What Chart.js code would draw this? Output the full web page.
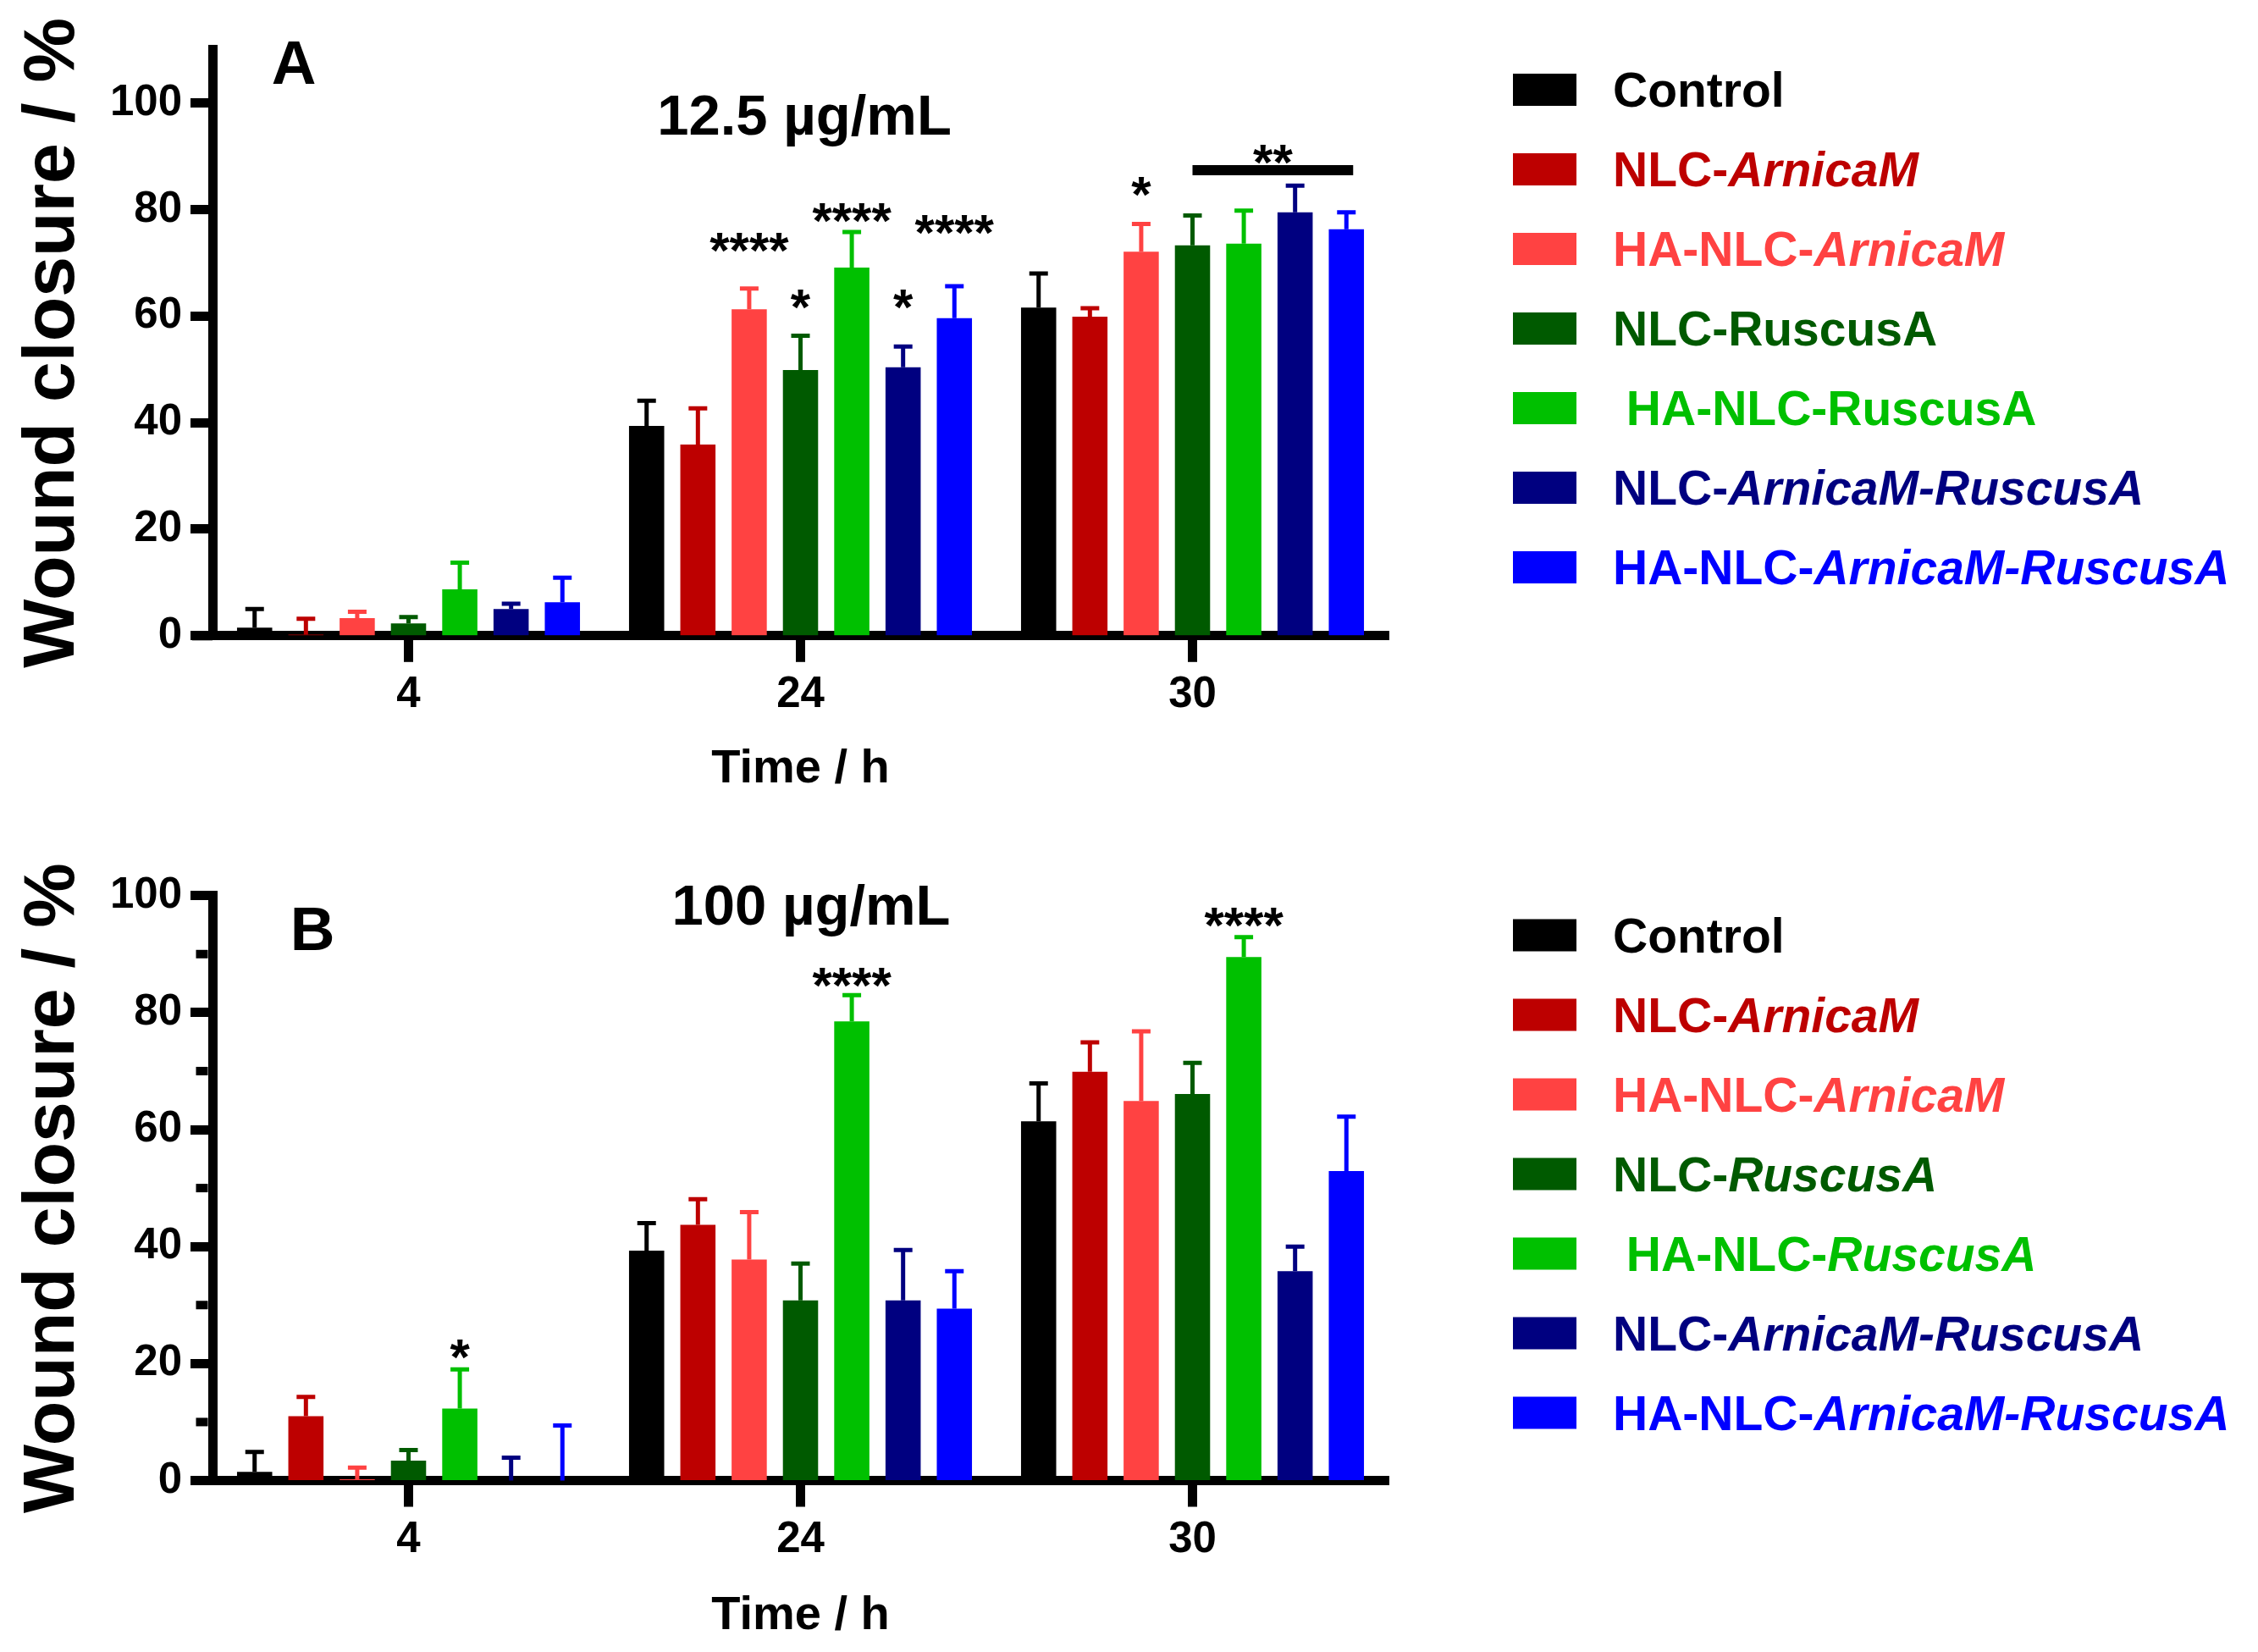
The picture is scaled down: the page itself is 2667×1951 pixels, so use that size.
<!DOCTYPE html>
<html>
<head>
<meta charset="utf-8">
<script src="https://cdn.jsdelivr.net/npm/chart.js@4.4.1/dist/chart.umd.min.js"></script>
<style>
  html, body { margin: 0; padding: 0; background: #fff; overflow: hidden; }
  #wrap { position: relative; width: 2667px; height: 1951px; }
  canvas { position: absolute; left: 0; }
  #panelA { top: 0; }
  #panelB { top: 975px; }
</style>
</head>
<body>
<div id="wrap">
  <canvas id="panelA" width="2667" height="975"></canvas>
  <canvas id="panelB" width="2667" height="976"></canvas>
</div>
<script>
const FONT = "'Liberation Sans', Arial, sans-serif";

const categories = ['4', '24', '30'];
const seriesNames = ['Control', 'NLC-ArnicaM', 'HA-NLC-ArnicaM', 'NLC-RuscusA',
    'HA-NLC-RuscusA', 'NLC-ArnicaM-RuscusA', 'HA-NLC-ArnicaM-RuscusA'];
const seriesColors = ['#000000', '#bd0000', '#ff4242', '#005a00', '#00c000', '#000080', '#0000ff'];

// wound closure (%) per series at 4, 24, 30 h -- 12.5 µg/mL
const mean12 = [
    [1.5, 39.4, 61.6],
    [0.2, 35.9, 59.9],
    [3.3, 61.3, 72.1],
    [2.3, 49.9, 73.3],
    [8.7, 69.1, 73.6],
    [5.0, 50.4, 79.5],
    [6.3, 59.6, 76.3]
];
const sd12 = [
    [3.5, 4.7, 6.4],
    [3.0, 6.8, 1.6],
    [1.2, 3.9, 5.2],
    [1.2, 6.4, 5.6],
    [5.0, 6.7, 6.2],
    [1.0, 3.9, 5.0],
    [4.6, 6.0, 3.2]
];

// 100 µg/mL
const mean100 = [
    [1.5, 39.3, 61.4],
    [11.0, 43.7, 69.9],
    [0.2, 37.8, 64.9],
    [3.4, 30.8, 66.1],
    [12.3, 78.5, 89.5],
    [0.0, 30.8, 35.8],
    [0.0, 29.4, 52.9]
];
const sd100 = [
    [3.4, 4.7, 6.5],
    [3.3, 4.4, 5.0],
    [2.0, 8.1, 11.9],
    [1.8, 6.3, 5.3],
    [6.7, 4.5, 3.4],
    [3.9, 8.6, 4.2],
    [9.4, 6.4, 9.3]
];

const yTicks12 = [0, 20, 40, 60, 80, 100];
const yTicks100 = [0, 20, 40, 60, 80, 100];
const yMinor100 = [10, 30, 50, 70, 90];

// significance marks: [category, series, text, y]
const stars12 = [
    [1, 2, '****', 74.3],
    [1, 3, '*', 63.7],
    [1, 4, '****', 79.9],
    [1, 5, '*', 63.7],
    [1, 6, '****', 77.7],
    [2, 2, '*', 84.9]
];
// bracket: [category, fromSeries, toSeries, lineY, text, textY]
const bracket12 = [2, 3, 6, 87.4, '**', 90.9];
const stars100 = [
    [0, 4, '*', 23.0],
    [1, 4, '****', 86.5],
    [2, 4, '****', 96.8]
];

// legend text pieces: [text, italic]
const legend12 = [
    [['Control', 0]],
    [['NLC-', 0], ['ArnicaM', 1]],
    [['HA-NLC-', 0], ['ArnicaM', 1]],
    [['NLC-RuscusA', 0]],
    [[' HA-NLC-RuscusA', 0]],
    [['NLC-', 0], ['ArnicaM-RuscusA', 1]],
    [['HA-NLC-', 0], ['ArnicaM-RuscusA', 1]]
];
const legend100 = [
    [['Control', 0]],
    [['NLC-', 0], ['ArnicaM', 1]],
    [['HA-NLC-', 0], ['ArnicaM', 1]],
    [['NLC-', 0], ['RuscusA', 1]],
    [[' HA-NLC-', 0], ['RuscusA', 1]],
    [['NLC-', 0], ['ArnicaM-RuscusA', 1]],
    [['HA-NLC-', 0], ['ArnicaM-RuscusA', 1]]
];

const extras = {
    id: 'extras',
    afterDatasetsDraw(chart, args, o) {
        const ctx = chart.ctx, y = chart.scales.y;
        ctx.save();
        ctx.lineWidth = 5;
        ctx.lineCap = 'butt';
        o.sd.forEach((errs, i) => {
            chart.getDatasetMeta(i).data.forEach((bar, j) => {
                const base = y.getPixelForValue(o.mean[i][j]);
                const top = y.getPixelForValue(o.mean[i][j] + errs[j]);
                ctx.strokeStyle = seriesColors[i];
                ctx.beginPath();
                ctx.moveTo(bar.x, base);
                ctx.lineTo(bar.x, top);
                ctx.moveTo(bar.x - 11, top);
                ctx.lineTo(bar.x + 11, top);
                ctx.stroke();
            });
        });
        ctx.restore();
    },
    afterDraw(chart, args, o) {
        const ctx = chart.ctx, y = chart.scales.y, area = chart.chartArea;
        const y0 = y.getPixelForValue(0);
        ctx.save();
        ctx.fillStyle = '#000';

        // x axis runs a little past the y axis
        ctx.fillRect(227, y0 - 5.5, area.left - 227, 11);

        // minor ticks
        (o.minor || []).forEach(v => {
            const py = y.getPixelForValue(v);
            ctx.fillRect(area.left - 5.5 - 14, py - 5, 14, 10);
        });

        // stars
        ctx.font = `bold 60px ${FONT}`;
        ctx.textAlign = 'center';
        ctx.textBaseline = 'alphabetic';
        o.stars.forEach(([c, s, txt, v]) => {
            const bar = chart.getDatasetMeta(s).data[c];
            ctx.fillText(txt, bar.x, y.getPixelForValue(v) + 33);
        });
        if (o.bracket) {
            const [c, s1, s2, ly, txt, ty] = o.bracket;
            const b1 = chart.getDatasetMeta(s1).data[c];
            const b2 = chart.getDatasetMeta(s2).data[c];
            const py = y.getPixelForValue(ly);
            ctx.fillRect(b1.x, py - 6, b2.x + 8 - b1.x, 12);
            ctx.fillText(txt, (b1.x + b2.x + 8) / 2, y.getPixelForValue(ty) + 33);
        }

        // panel letter and concentration
        ctx.font = `bold 73px ${FONT}`;
        ctx.fillText(o.letter, o.letterX, o.letterY);
        ctx.font = `bold 67px ${FONT}`;
        ctx.fillText(o.title, o.titleX, o.titleY);

        // legend
        ctx.textAlign = 'left';
        o.legend.forEach((parts, i) => {
            const cy = o.legY + i * 94;
            ctx.fillStyle = seriesColors[i];
            ctx.fillRect(1787, cy - 19, 75, 38);
            let x = 1905;
            parts.forEach(([txt, it]) => {
                ctx.font = `${it ? 'italic ' : ''}bold 57px ${FONT}`;
                ctx.fillText(txt, x, cy + 20);
                x += ctx.measureText(txt).width;
            });
        });
        ctx.restore();
    }
};

function makePanel(id, mean, sd, opts) {
    const canvas = document.getElementById(id);
    const tickFont = { family: FONT, size: 51, weight: 'bold', lineHeight: 1 };
    return new Chart(canvas, {
        type: 'bar',
        data: {
            labels: categories,
            datasets: seriesNames.map((name, i) => ({
                label: name,
                data: mean[i],
                backgroundColor: seriesColors[i],
                borderWidth: 0,
                barPercentage: 0.686,
                categoryPercentage: 0.916
            }))
        },
        options: {
            responsive: false,
            animation: false,
            devicePixelRatio: 1,
            layout: { padding: { left: 0, right: 1027, top: opts.top, bottom: 0 } },
            plugins: {
                legend: { display: false },
                tooltip: { enabled: false },
                extras: Object.assign({ mean: mean, sd: sd }, opts.extras)
            },
            scales: {
                x: {
                    z: 1,
                    afterFit: s => { s.height = canvas.height - opts.bottom; },
                    border: { display: true, color: '#000', width: 11 },
                    grid: { display: true, drawOnChartArea: false, offset: false, tickLength: 31, tickWidth: 11, tickColor: '#000' },
                    ticks: { font: tickFont, color: '#000', padding: 14 },
                    title: {
                        display: true, text: 'Time / h', color: '#000',
                        font: { family: FONT, size: 56, weight: 'bold', lineHeight: 1 },
                        padding: { top: 0, bottom: opts.xTitlePad }
                    }
                },
                y: {
                    min: 0,
                    max: opts.max,
                    afterFit: s => { s.width = 251; },
                    afterBuildTicks: s => { s.ticks = opts.ticks.map(v => ({ value: v })); },
                    border: { display: true, color: '#000', width: 11 },
                    grid: { drawOnChartArea: false, drawTicks: true, tickLength: 26, tickWidth: 11, tickColor: '#000' },
                    ticks: { font: tickFont, color: '#000', padding: 10 },
                    title: {
                        display: true, text: 'Wound closure / %', color: '#000',
                        font: { family: FONT, size: 86, weight: 'bold', lineHeight: 1 },
                        padding: { top: 20, bottom: 0 }
                    }
                }
            }
        },
        plugins: [extras]
    });
}

makePanel('panelA', mean12, sd12, {
    top: 58.8, bottom: 750.8, max: 110, ticks: yTicks12, xTitlePad: 38,
    extras: {
        stars: stars12, bracket: bracket12, minor: [],
        letter: 'A', letterX: 347, letterY: 99,
        title: '12.5 µg/mL', titleX: 950, titleY: 159,
        legend: legend12, legY: 106
    }
});

makePanel('panelB', mean100, sd100, {
    top: 82.7, bottom: 773.5, max: 100, ticks: yTicks100, xTitlePad: 14,
    extras: {
        stars: stars100, bracket: null, minor: yMinor100,
        letter: 'B', letterX: 369, letterY: 147,
        title: '100 µg/mL', titleX: 958, titleY: 117,
        legend: legend100, legY: 129.5
    }
});
</script>
</body>
</html>
